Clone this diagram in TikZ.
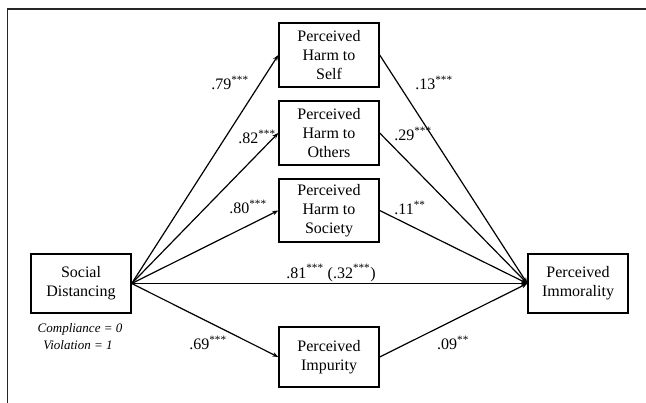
\documentclass[tikz,border=0pt]{standalone}
\usepackage{fontspec}
\setmainfont{Liberation Serif}
\usetikzlibrary{arrows.meta}
\begin{document}
\begin{tikzpicture}[x=1pt,y=-1pt,
  var/.style={draw=black, line width=1.4pt, rectangle, inner sep=0pt, align=center,
    minimum width=100pt, font=\fontsize{16}{19}\selectfont},
  path/.style={draw=black, line width=1.2pt},
  arr/.style={path, -{Stealth[length=6pt,width=4.5pt]}},
  coef/.style={inner sep=0pt, font=\fontsize{16}{19}\selectfont},
  note/.style={inner sep=0pt, font=\fontsize{13}{16}\selectfont\itshape},
  frame/.style={draw=black!85, line width=1.3pt}]
\useasboundingbox (0,0) rectangle (646,403);
\coordinate (fa) at (7.5,403);
\coordinate (fb) at (7.5,9);
\coordinate (fc) at (646,9);
\draw[frame] (fa) -- (fb) -- (fc);

\node[var, minimum height=64pt] (self) at (329,55) {Perceived\\Harm to\\Self};
\node[var, minimum height=64pt] (others) at (329,133) {Perceived\\Harm to\\Others};
\node[var, minimum height=63pt] (society) at (329,210.5) {Perceived\\Harm to\\Society};
\node[var, minimum height=60pt] (impurity) at (329,357) {Perceived\\Impurity};
\node[var, minimum height=59pt] (sd) at (81,283.5) {Social\\Distancing};
\node[var, minimum height=59pt] (imm) at (578,283.5) {Perceived\\Immorality};

\draw[arr] (sd.east) -- (self.west);
\draw[arr] (sd.east) -- (others.west);
\draw[arr] (sd.east) -- (society.west);
\draw[arr] (sd.east) -- (impurity.west);
\draw[arr] (sd.east) -- (imm.west);
\draw[arr] (self.east) -- (imm.west);
\draw[arr] (others.east) -- (imm.west);
\draw[arr] (society.east) -- (imm.west);
\draw[arr] (impurity.east) -- (imm.west);

\node[coef] (l1) at (230,83) {.79\textsuperscript{***}};
\node[coef] (l2) at (257,137) {.82\textsuperscript{***}};
\node[coef] (l3) at (248,207) {.80\textsuperscript{***}};
\node[coef] (l4) at (331,273) {.81\textsuperscript{***} (.32\textsuperscript{***})};
\node[coef] (l5) at (208,343) {.69\textsuperscript{***}};
\node[coef] (l6) at (434,83) {.13\textsuperscript{***}};
\node[coef] (l7) at (413,134) {.29\textsuperscript{***}};
\node[coef] (l8) at (410,208) {.11\textsuperscript{**}};
\node[coef] (l9) at (453,343) {.09\textsuperscript{**}};

\node[note] (n1) at (80,329) {Compliance = 0};
\node[note] (n2) at (78,345) {Violation = 1};
\end{tikzpicture}
\end{document}
